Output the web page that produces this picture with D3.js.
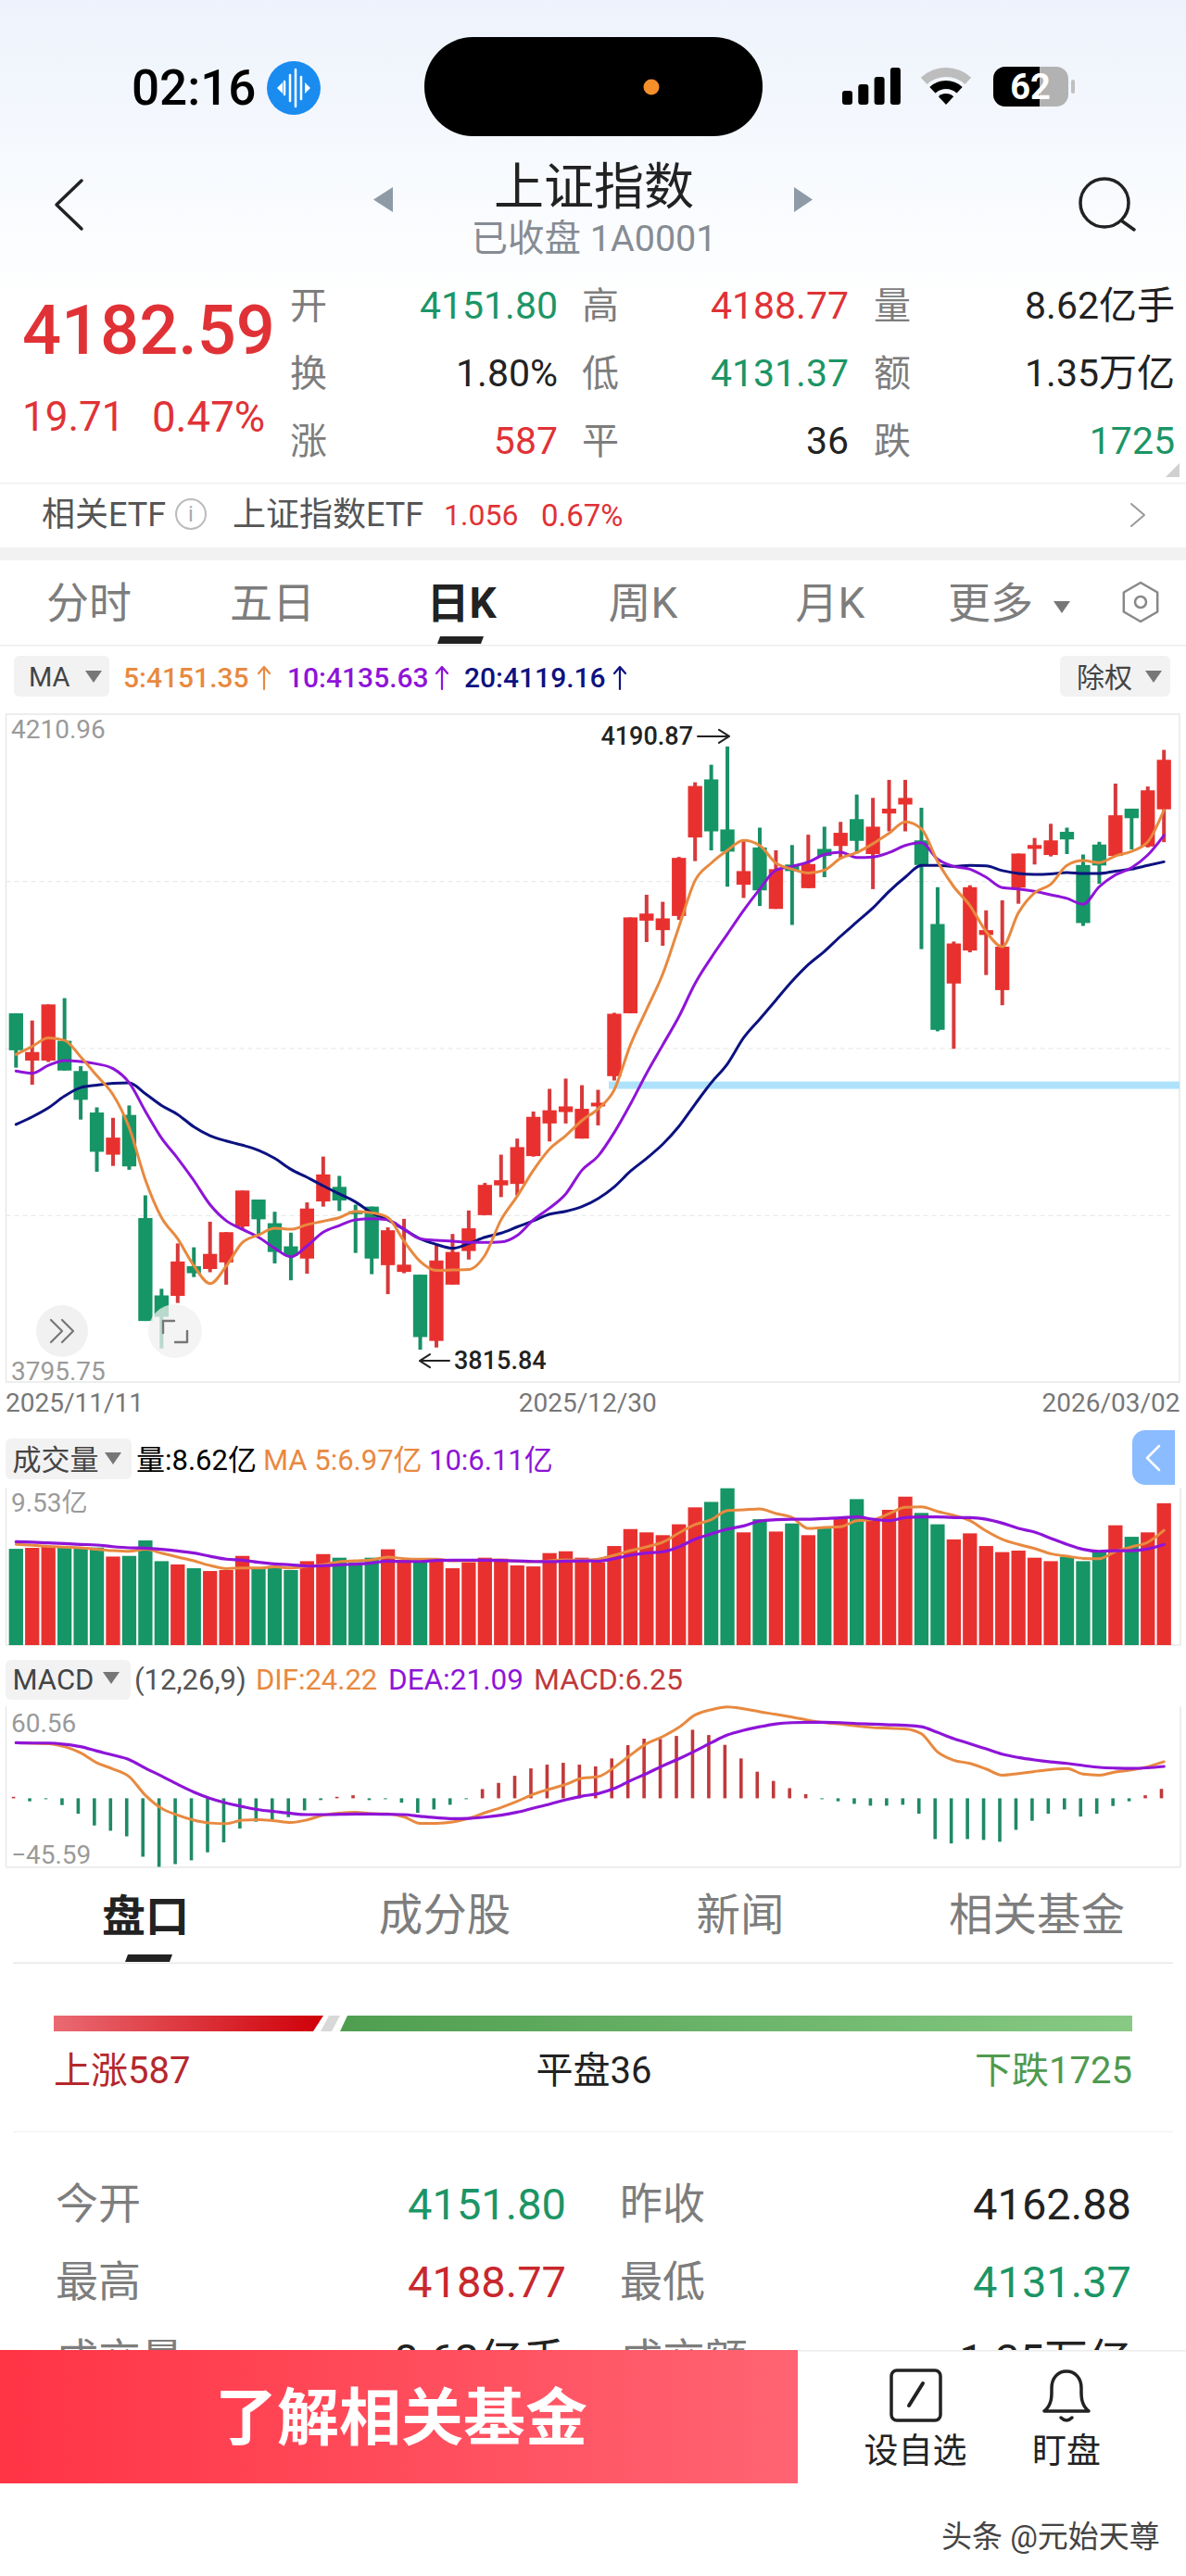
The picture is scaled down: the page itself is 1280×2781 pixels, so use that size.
<!DOCTYPE html>
<html>
<head>
<meta charset="utf-8">
<style>
  html, body { margin: 0; padding: 0; background: #fff; }
  svg { display: block; }
  text { font-family: Roboto, "Noto Sans CJK SC", sans-serif; }
</style>
<script src="https://cdnjs.cloudflare.com/ajax/libs/d3/7.8.5/d3.min.js"></script>
</head>
<body>
<div id="wrapper"></div>
<script>
const dateTicks = ["2025/11/11", "2025/12/30", "2026/03/02"];

const opens = [
  4025.0,3995.6,3995.6,4007.9,3989.1,3963.3,3937.1,3961.8,3897.7,3849.6,
  3849.3,3867.8,3866.0,3870.1,3892.5,3909.2,3894.5,3880.1,3872.5,3908.0,
  3917.1,3901.9,3904.8,3868.4,3864.2,3862.5,3821.3,3856.3,3877.2,3899.5,
  3918.0,3918.9,3936.2,3956.5,3963.6,3947.1,3967.1,3985.9,4025.0,4082.6,
  4076.7,4085.5,4134.3,4170.4,4139.3,4104.9,4128.1,4089.9,4117.5,4102.8,
  4127.2,4129.0,4145.7,4124.0,4149.2,4154.8,4132.5,4080.5,4043.5,4064.0,
  4073.7,4039.4,4103.1,4127.2,4123.4,4137.8,4117.2,4129.9,4122.8,4152.2,
  4128.7,4151.80];
const closes = [
  4002.0,4000.9,4030.5,3989.4,3971.2,3938.9,3947.7,3929.8,3833.7,3836.3,
  3870.7,3863.4,3875.4,3888.9,3914.8,3896.9,3876.6,3874.2,3903.6,3924.8,
  3908.6,3900.1,3872.5,3890.1,3868.7,3823.7,3871.3,3876.6,3891.3,3918.3,
  3921.2,3941.8,3960.6,3964.7,3967.1,3965.6,3969.4,4024.7,4084.6,4087.0,
  4084.0,4121.6,4166.3,4138.1,4125.5,4113.4,4101.4,4114.6,4113.4,4117.8,
  4122.8,4137.2,4132.2,4141.0,4152.2,4158.9,4117.2,4014.7,4068.4,4103.4,
  4076.7,4066.4,4124.3,4129.6,4132.5,4133.1,4081.1,4116.9,4148.1,4146.3,
  4163.6,4182.59];
const highs = [
  4025.0,4020.5,4030.5,4034.4,3992.1,3966.5,3960.0,3967.7,3911.8,3853.7,
  3881.9,3879.5,3895.4,3888.9,3914.8,3909.2,3901.6,3888.6,3907.4,3935.9,
  3923.9,3906.0,3904.8,3891.9,3897.2,3862.5,3881.3,3887.8,3902.4,3919.5,
  3937.1,3947.1,3963.9,3978.0,3984.4,3980.3,3977.4,4025.3,4084.6,4098.7,
  4094.3,4122.2,4168.6,4179.5,4190.87,4132.5,4140.4,4126.3,4129.6,4136.0,
  4141.0,4144.0,4161.0,4158.9,4170.1,4170.1,4152.8,4103.4,4069.6,4104.6,
  4089.0,4095.2,4124.3,4134.0,4142.8,4140.4,4123.7,4131.6,4167.8,4152.2,
  4166.0,4188.77];
const lows = [
  3991.2,3980.6,3994.7,3989.4,3958.9,3926.5,3930.1,3927.7,3833.7,3816.6,
  3844.9,3861.0,3864.0,3856.3,3890.1,3887.8,3869.5,3859.0,3863.1,3904.8,
  3902.1,3876.0,3862.8,3850.4,3863.4,3815.84,3817.2,3856.3,3871.9,3899.5,
  3910.7,3911.8,3935.9,3945.3,3956.5,3947.1,3955.3,3983.2,4025.0,4069.3,
  4067.0,4083.1,4119.6,4126.3,4103.7,4096.7,4091.7,4089.9,4079.9,4102.8,
  4109.6,4121.3,4124.3,4102.2,4138.1,4138.1,4064.9,4013.8,4002.9,4062.9,
  4048.8,4030.0,4093.1,4117.5,4122.5,4124.0,4079.3,4105.5,4122.8,4126.9,
  4128.1,4131.37];

const ma5 = [
  3999.4,4004.4,4009.7,4008.2,3997.9,3986.2,3974.4,3953.9,3921.5,3898.0,
  3884.8,3868.1,3856.9,3867.8,3882.5,3887.2,3891.3,3890.7,3893.6,3895.7,
  3898.0,3901.9,3901.0,3898.0,3883.3,3870.7,3865.1,3865.4,3865.7,3874.5,
  3896.6,3911.3,3927.4,3940.6,3948.9,3958.3,3965.6,3977.4,4005.3,4027.3,
  4049.4,4078.7,4107.5,4118.4,4126.3,4132.5,4129.3,4118.4,4114.6,4112.2,
  4114.0,4121.3,4124.9,4130.4,4136.9,4144.0,4139.6,4119.3,4103.7,4092.0,
  4075.8,4066.4,4087.5,4099.9,4105.2,4116.9,4119.9,4118.7,4122.8,4125.7,
  4131.6,4151.35];
const ma10 = [
  3989.1,3987.7,3992.6,3995.6,3995.0,3993.5,3990.6,3981.8,3964.1,3947.4,
  3934.8,3921.0,3906.0,3896.0,3890.7,3885.7,3878.9,3873.6,3880.4,3888.9,
  3893.0,3896.6,3897.2,3896.6,3890.7,3884.8,3883.9,3883.3,3882.5,3882.5,
  3882.8,3886.9,3896.6,3903.9,3912.7,3927.4,3936.2,3950.9,3968.5,3987.7,
  4005.3,4022.9,4043.5,4059.6,4074.3,4089.0,4102.2,4114.0,4116.3,4119.0,
  4123.7,4125.2,4121.9,4122.2,4124.9,4129.3,4131.0,4120.8,4116.3,4114.6,
  4109.6,4103.1,4102.2,4100.8,4098.7,4096.4,4092.8,4103.7,4111.0,4115.5,
  4123.4,4135.63];
const ma20 = [
  3955.9,3960.6,3966.2,3973.5,3978.8,3980.3,3981.5,3981.8,3975.0,3967.7,
  3962.1,3954.4,3948.9,3945.6,3943.0,3939.8,3934.8,3928.0,3923.0,3917.7,
  3912.7,3907.7,3901.0,3896.6,3890.7,3884.8,3881.3,3878.9,3881.9,3885.7,
  3888.3,3892.2,3896.0,3900.1,3901.9,3904.8,3909.8,3917.1,3926.8,3934.8,
  3943.6,3954.7,3968.5,3981.8,3993.5,4009.7,4021.4,4033.2,4044.9,4055.2,
  4063.5,4072.9,4081.7,4090.5,4100.8,4109.6,4116.9,4116.9,4116.3,4116.9,
  4116.6,4113.7,4111.9,4111.3,4111.6,4112.5,4111.9,4111.9,4113.4,4114.6,
  4116.9,4119.16];

// volume, in 亿
const volumes = [
  5.85,5.91,5.98,6.00,5.95,5.93,5.38,5.42,6.36,5.10,
  4.90,4.67,4.50,4.56,5.42,4.65,4.80,4.56,5.10,5.53,
  5.31,5.03,5.31,5.82,5.18,5.12,5.25,4.67,5.03,5.31,
  5.25,4.84,4.78,5.59,5.70,5.31,5.03,6.02,7.05,6.85,
  6.68,7.34,8.37,8.70,9.53,6.85,7.65,6.90,7.39,6.68,
  7.09,7.75,8.87,7.69,8.22,9.02,8.03,7.34,6.42,6.79,
  6.02,5.65,5.74,5.31,5.10,5.37,5.10,5.68,7.28,6.58,
  6.85,8.62];
const volMa5 = [
  6.12,6.06,6.00,5.95,5.91,5.82,5.74,5.70,5.82,5.59,
  5.35,5.12,4.84,4.65,4.69,4.69,4.75,4.69,4.78,4.88,
  5.07,5.12,5.18,5.35,5.25,5.22,5.22,5.12,5.12,5.16,
  5.16,5.10,5.07,5.12,5.18,5.16,5.22,5.46,5.74,5.97,
  6.25,6.81,7.32,7.62,8.18,8.22,8.27,7.99,7.75,7.09,
  7.15,7.19,7.56,7.62,7.99,8.37,8.40,8.12,7.88,7.56,
  6.94,6.43,6.12,5.87,5.55,5.40,5.27,5.25,5.68,5.97,
  6.25,6.97];
const volMa10 = [
  6.28,6.25,6.21,6.17,6.12,6.08,5.98,5.91,5.89,5.82,
  5.72,5.59,5.40,5.22,5.16,5.03,4.93,4.88,4.80,4.82,
  4.88,4.92,4.99,5.10,5.08,5.08,5.14,5.16,5.16,5.16,
  5.14,5.12,5.08,5.07,5.10,5.12,5.10,5.25,5.46,5.59,
  5.67,5.97,6.43,6.75,7.05,7.24,7.54,7.62,7.65,7.65,
  7.69,7.73,7.79,7.65,7.56,7.75,7.79,7.79,7.75,7.75,
  7.65,7.41,7.09,6.87,6.49,6.12,5.82,5.70,5.74,5.74,
  5.85,6.11];

const macdBars = [
  1,-2,-0.6,-4.5,-10.2,-18,-21.5,-25.2,-38.7,-45.4,
  -43.6,-41.1,-35.8,-29.2,-20,-15.5,-14.3,-12.5,-8,-1.2,
  1,2,-1.2,-0.6,-2.9,-9.6,-7.4,-4.3,-0.6,6.1,
  10.2,14.9,19.8,22.3,23.5,22.3,21.1,26.4,35.2,39.5,
  39.3,41.3,45.4,41.9,35.4,26.4,17.6,11.5,6.7,2.7,
  -0.5,-2,-3.7,-4.9,-4.9,-4.3,-10.2,-27,-29.9,-27,
  -27.6,-28.8,-20.9,-14.9,-10.2,-7.4,-12.1,-10.2,-5.1,-2,
  2,6.25];
const dif = [
  36.8,36.4,36.2,34.2,30.1,23.5,19.4,14.3,2.0,-6.7,
  -11.2,-14.5,-16.4,-16.8,-14.5,-14.1,-14.9,-16.0,-14.3,-11.2,
  -9.8,-9.2,-10.2,-10.4,-12.3,-16.6,-16.6,-15.7,-13.3,-9.6,
  -6.1,-2.0,2.7,6.1,9.2,13.3,14.3,20.5,28.6,36.2,
  40.9,47.0,55.2,58.7,60.56,59.3,57.3,55.6,53.8,51.7,
  50.1,49.1,47.9,46.8,46.4,46.0,42.7,30.7,25.2,23.1,
  19.4,15.3,16.4,17.8,19.0,19.8,16.0,15.3,17.4,18.8,
  20.9,24.22];
const dea = [
  36.8,36.6,36.6,35.8,34.2,31.3,28.6,25.6,20.0,14.7,
  9.2,4.1,0,-3.1,-5.5,-7.6,-8.8,-10.0,-10.8,-10.8,
  -10.6,-10.4,-10.4,-10.6,-10.8,-11.9,-12.9,-13.5,-13.3,-12.5,
  -11.2,-9.2,-6.5,-3.9,-1.0,1.4,3.1,6.5,11.7,16.4,
  21.5,26.2,31.3,36.8,41.9,45.0,47.4,49.3,50.1,50.3,
  50.3,50.1,49.5,49.1,48.7,48.3,47.4,43.6,39.5,36.2,
  32.7,29.2,27.0,25.4,24.1,23.1,21.7,20.5,20.0,19.8,
  20.2,21.09];

const priceTicks = [4210.96, 3795.75];
const priceGrid = [4107.16, 4003.36, 3899.55];
const priceMaxMarker = 4190.87;
const priceMinMarker = 3815.84;
const levelLine = 3980.3;
const volumeTicks = [9.53];
const macdTicks = [60.56, -45.59];

const colors = {
  red: "#e8312f",
  green: "#169566",
  textRed: "#e03236",
  textGreen: "#1c9566",
  macdRed: "#c0393b",
  macdGreen: "#1f8a65",
  orange: "#e8893f",
  purple: "#8e14d8",
  navy: "#0c1280",
  grid: "#e4e4e4",
  frame: "#e8e8e8",
  gray: "#7d7d7d",
  axisGray: "#9a9a9a",
  chip: "#f2f2f2",
  dark: "#222",
};

const indices = d3.range(closes.length);
const candles = indices.map(i => ({ i, open: opens[i], close: closes[i], high: highs[i], low: lows[i] }));
const isUp = i => closes[i] >= opens[i];

const svg = d3.select("#wrapper").append("svg").attr("width", 1280).attr("height", 2781);
const defs = svg.append("defs");

function gradient(id, stops, vertical) {
  const g = defs.append("linearGradient").attr("id", id)
    .attr("x1", 0).attr("y1", 0)
    .attr("x2", vertical ? 0 : 1).attr("y2", vertical ? 1 : 0);
  stops.forEach((c, k) => g.append("stop").attr("offset", k / (stops.length - 1)).attr("stop-color", c));
}
gradient("headerBg", ["#edf3fc", "#ffffff"], true);
gradient("barRed", ["#ea6a72", "#cf0008"]);
gradient("barGreen", ["#4f9e4f", "#88ca84"]);
gradient("btnRed", ["#ff3445", "#ff6472"]);

function text(x, y, str, size, fill, opts = {}) {
  return svg.append("text")
    .attr("x", x).attr("y", y)
    .attr("dominant-baseline", "central")
    .attr("text-anchor", opts.anchor || "start")
    .attr("font-size", size)
    .attr("font-weight", opts.weight || 400)
    .attr("fill", fill)
    .text(str);
}

function rect(x, y, w, h, fill, rx) {
  return svg.append("rect").attr("x", x).attr("y", y).attr("width", w).attr("height", h)
    .attr("fill", fill).attr("rx", rx || 0);
}

function stroke(d, color, width) {
  return svg.append("path").attr("d", d).attr("fill", "none")
    .attr("stroke", color).attr("stroke-width", width)
    .attr("stroke-linecap", "round").attr("stroke-linejoin", "round");
}

function fillPath(d, color) {
  return svg.append("path").attr("d", d).attr("fill", color);
}

function caret(cx, cy, color) {
  fillPath(`M${cx - 9},${cy - 6}L${cx + 9},${cy - 6}L${cx},${cy + 7}Z`, color || "#777");
}

function drawHeader() {
  rect(0, 0, 1280, 330, "url(#headerBg)");

  text(142, 95, "02:16", 53, "#000", { weight: 500 });
  svg.append("circle").attr("cx", 317).attr("cy", 95).attr("r", 29).attr("fill", "#1a8cf0");
  [[307, 7], [313, 14], [319, 20], [325, 12]].forEach(([x, h]) => stroke(`M${x},${95 - h}V${95 + h}`, "#fff", 2.5));
  fillPath("M299,95l6,-6v12Z", "#fff");
  fillPath("M335,95l-6,-6v12Z", "#fff");

  rect(458, 40, 365, 107, "#000", 53);
  svg.append("circle").attr("cx", 703).attr("cy", 94).attr("r", 8.5).attr("fill", "#f58f2a");

  [15, 22, 30, 40].forEach((h, k) => rect(909 + k * 17.3, 113 - h, 11, h, "#000", 3));
  const arc = d3.arc().startAngle(-Math.PI / 4.2).endAngle(Math.PI / 4.2);
  [[0, 12, "#000"], [17, 26, "#000"], [30, 40, "#bdbdbd"]].forEach(([r0, r1, c]) => {
    svg.append("path").attr("transform", "translate(1021,113)")
      .attr("d", arc({ innerRadius: r0, outerRadius: r1 })).attr("fill", c);
  });
  rect(1072, 72, 81, 43, "#b2b2b2", 13);
  fillPath("M1085,72H1122V115H1085A13,13 0 0 1 1072,102V85A13,13 0 0 1 1085,72Z", "#000");
  rect(1156, 86, 4, 15, "#c0c0c0", 2);
  text(1112, 94, "62", 38, "#fff", { anchor: "middle", weight: 700 });

  stroke("M88,195L61,221L88,247", "#222", 3.5);
  text(641, 202, "上证指数", 54, "#222", { anchor: "middle" });
  fillPath("M424,202V229L403,215.5Z", "#8e9aa6");
  fillPath("M857,202V229L877,215.5Z", "#8e9aa6");
  text(641, 257, "已收盘 1A0001", 39.5, "#868c94", { anchor: "middle" });
  svg.append("circle").attr("cx", 1192).attr("cy", 219).attr("r", 26).attr("fill", "none")
    .attr("stroke", "#222").attr("stroke-width", 3.5);
  stroke("M1210,238L1224,248", "#222", 3.5);
}

function drawQuote() {
  text(24, 356, "4182.59", 74, colors.textRed, { weight: 500 });
  text(24, 450, "19.71", 44, colors.textRed);
  text(164, 450, "0.47%", 45.5, colors.textRed);

  const labelCols = [313, 628, 943];
  const valueCols = [602, 916, 1268];
  const rowYs = [330, 403, 476];
  const cells = [
    [["开", "4151.80", colors.textGreen], ["高", "4188.77", colors.textRed], ["量", "8.62亿手", colors.dark]],
    [["换", "1.80%", colors.dark], ["低", "4131.37", colors.textGreen], ["额", "1.35万亿", colors.dark]],
    [["涨", "587", colors.textRed], ["平", "36", colors.dark], ["跌", "1725", colors.textGreen]],
  ];
  cells.forEach((row, r) => row.forEach(([lab, val, col], c) => {
    text(labelCols[c], rowYs[r], lab, 40, colors.gray);
    text(valueCols[c], rowYs[r], val, 41, col, { anchor: "end" });
  }));
  fillPath("M1273,500V515H1258Z", "#d0d0d0");

  rect(0, 521, 1280, 1.5, "#f0f0f0");
  text(45, 556, "相关ETF", 36, "#555");
  svg.append("circle").attr("cx", 206).attr("cy", 555).attr("r", 16).attr("fill", "none")
    .attr("stroke", "#bbb").attr("stroke-width", 2);
  text(206, 555, "i", 24, "#aaa", { anchor: "middle" });
  text(251, 556, "上证指数ETF", 36, "#555");
  text(479, 556, "1.056", 32, colors.textRed);
  text(584, 556, "0.67%", 33, colors.textRed);
  stroke("M1221,544L1235,556L1221,568", "#999", 2);
  rect(0, 591, 1280, 14, "#f2f2f2");
}

function drawTabs() {
  const tabs = [["分时", 96], ["五日", 294], ["周K", 694], ["月K", 896], ["更多", 1069]];
  tabs.forEach(([t, x]) => text(x, 651, t, 46, colors.gray, { anchor: "middle" }));
  text(498, 651, "日K", 46, colors.dark, { anchor: "middle", weight: 700 });
  caret(1146, 655, "#777");
  const hex = d3.line()(d3.range(6).map(k => {
    const a = Math.PI / 3 * k - Math.PI / 2;
    return [1231 + 21 * Math.cos(a), 650 + 21 * Math.sin(a)];
  })) + "Z";
  stroke(hex, "#888", 2.5);
  svg.append("circle").attr("cx", 1231).attr("cy", 650).attr("r", 6).attr("fill", "none")
    .attr("stroke", "#888").attr("stroke-width", 2.5);
  fillPath("M475,687H522L519,695H472Z", colors.dark);
  rect(0, 696, 1280, 1.5, "#eeeeee");

  rect(15, 708, 103, 44, colors.chip, 6);
  text(31, 731, "MA", 29, "#444");
  caret(101, 730, "#777");
  const mas = [["5:4151.35", 133, 285, colors.orange], ["10:4135.63", 310, 477, colors.purple], ["20:4119.16", 501, 669, colors.navy]];
  mas.forEach(([t, x, ax, c]) => {
    text(x, 731, t, 30, c, { weight: 500 });
    stroke(`M${ax},744V720M${ax - 6},727L${ax},720L${ax + 6},727`, c, 2.2);
  });
  rect(1144, 708, 119, 44, colors.chip, 6);
  text(1192, 731, "除权", 30, "#444", { anchor: "middle" });
  caret(1245, 730, "#777");
}

// shared x scale, one band per trading day
const xScale = d3.scaleBand().domain(indices).range([7.5, 1266]).padding(0.123);
const barW = xScale.bandwidth();
const cx = i => xScale(i) + barW / 2;

const frameX0 = 6.5;
const frameX1 = 1273;

function maLine(values, yScale, color, width) {
  const line = d3.line().x((d, i) => cx(i)).y(d => yScale(d)).curve(d3.curveMonotoneX);
  svg.append("path").attr("d", line(values)).attr("fill", "none")
    .attr("stroke", color).attr("stroke-width", width)
    .attr("stroke-linejoin", "round").attr("stroke-linecap", "round");
}

function sideLabels(scale, ticks, format, dys) {
  const axis = d3.axisRight(scale).tickValues(ticks).tickSize(0).tickPadding(0).tickFormat(format);
  const g = svg.append("g").attr("transform", `translate(12,0)`).call(axis);
  g.select(".domain").remove();
  g.selectAll("text")
    .attr("font-family", 'Roboto, "Noto Sans CJK SC", sans-serif')
    .attr("font-size", 28)
    .attr("fill", colors.axisGray)
    .attr("dy", (d, k) => dys[k]);
}

function drawPricePanel() {
  const top = 771, bottom = 1492;
  const yScale = d3.scaleLinear().domain([3795.75, 4210.96]).range([bottom, top]);

  const grid = d3.axisLeft(yScale).tickValues(priceGrid).tickSize(-(frameX1 - frameX0 - 8)).tickFormat("");
  const gridG = svg.append("g").attr("transform", `translate(${frameX0},0)`).call(grid);
  gridG.select(".domain").remove();
  gridG.selectAll("line").attr("stroke", colors.grid).attr("stroke-dasharray", "5 4");

  svg.append("rect").attr("x", frameX0).attr("y", top).attr("width", frameX1 - frameX0).attr("height", bottom - top)
    .attr("fill", "none").attr("stroke", colors.frame).attr("stroke-width", 1.5);

  rect(657, yScale(levelLine) - 4, frameX1 - 657, 8, "#aee2fb");

  const wicks = svg.append("g");
  wicks.selectAll("rect").data(candles).join("rect")
    .attr("x", d => cx(d.i) - 2)
    .attr("width", 4)
    .attr("y", d => yScale(d.high))
    .attr("height", d => yScale(d.low) - yScale(d.high))
    .attr("fill", d => isUp(d.i) ? "#d63a3c" : "#1a8f66");
  const bodies = svg.append("g");
  bodies.selectAll("rect").data(candles).join("rect")
    .attr("x", d => xScale(d.i))
    .attr("width", barW)
    .attr("y", d => yScale(Math.max(d.open, d.close)))
    .attr("height", d => Math.max(3, Math.abs(yScale(d.open) - yScale(d.close))))
    .attr("fill", d => isUp(d.i) ? colors.red : colors.green);

  maLine(ma20, yScale, colors.navy, 3);
  maLine(ma10, yScale, colors.purple, 3);
  maLine(ma5, yScale, colors.orange, 3);

  sideLabels(yScale, priceTicks, d3.format(".2f"), [25, -3]);

  const maxY = yScale(priceMaxMarker) - 11;
  text(748, maxY, d3.format(".2f")(priceMaxMarker), 27, colors.dark, { anchor: "end", weight: 500 });
  stroke(`M753,${maxY}H787M776,${maxY - 7}L787,${maxY}L776,${maxY + 7}`, colors.dark, 2);
  const minY = yScale(priceMinMarker) + 12;
  text(490, minY, d3.format(".2f")(priceMinMarker), 27, colors.dark, { weight: 500 });
  stroke(`M485,${minY}H453M464,${minY - 7}L453,${minY}L464,${minY + 7}`, colors.dark, 2);

  const dates = d3.scalePoint().domain(dateTicks).range([frameX0, frameX1]);
  const dateAxis = svg.append("g").attr("transform", `translate(0,${bottom})`)
    .call(d3.axisBottom(dates).tickSize(0).tickPadding(12));
  dateAxis.select(".domain").remove();
  dateAxis.selectAll("text")
    .attr("font-family", 'Roboto, "Noto Sans CJK SC", sans-serif')
    .attr("font-size", 28)
    .attr("fill", "#777")
    .attr("text-anchor", (d, k) => ["start", "middle", "end"][k])
    .attr("dx", (d, k) => [-1, -6, 0][k]);

  // overlay buttons
  svg.append("circle").attr("cx", 67).attr("cy", 1437).attr("r", 28).attr("fill", "#f0f0f0").attr("fill-opacity", 0.92);
  stroke("M55,1425L67,1437L55,1449M67,1425L79,1437L67,1449", "#777", 2.2);
  svg.append("circle").attr("cx", 189).attr("cy", 1437).attr("r", 29).attr("fill", "#f0f0f0").attr("fill-opacity", 0.75);
  stroke("M176,1439V1426H188", "#777", 2.4);
  stroke("M202,1437V1449H189", "#777", 2.4);
}

function drawVolumePanel() {
  const top = 1606.7, bottom = 1776;
  const yScale = d3.scaleLinear().domain([0, 9.53]).range([bottom, top]);

  rect(6, 1553, 136, 44, colors.chip, 6);
  text(13.5, 1576, "成交量", 31, "#444");
  caret(122, 1574, "#777");
  text(147, 1576, "量:8.62亿", 31, "#000");
  text(284, 1576, "MA 5:6.97亿", 31, colors.orange);
  text(463, 1576, "10:6.11亿", 31, colors.purple);

  stroke(`M${frameX0},${top}V${bottom}H1274V${top}`, colors.frame, 1.5);

  svg.append("g").selectAll("rect").data(volumes).join("rect")
    .attr("x", (d, i) => xScale(i))
    .attr("width", barW)
    .attr("y", d => yScale(d))
    .attr("height", d => yScale(0) - yScale(d))
    .attr("fill", (d, i) => isUp(i) ? colors.red : colors.green);

  maLine(volMa5, yScale, colors.orange, 3);
  maLine(volMa10, yScale, colors.purple, 3.2);

  sideLabels(yScale, volumeTicks, d => d3.format(".2f")(d) + "亿", [25]);

  fillPath("M1268,1544V1603H1236A14,14 0 0 1 1222,1589V1558A14,14 0 0 1 1236,1544Z", "#8abcff");
  stroke("M1251,1561L1238,1574L1251,1587", "#fff", 2.5);
}

function drawMacdPanel() {
  const top = 1842.7, bottom = 2015.7;
  const yScale = d3.scaleLinear().domain([-45.59, 60.56]).range([bottom, top]);

  rect(6, 1792, 135, 43, colors.chip, 6);
  text(13.5, 1813, "MACD", 31, "#444");
  caret(120, 1811, "#777");
  text(145, 1813, "(12,26,9)", 31, "#555");
  text(276, 1813, "DIF:24.22", 31, colors.orange);
  text(419, 1813, "DEA:21.09", 31.5, colors.purple);
  text(576, 1813, "MACD:6.25", 32, colors.macdRed);

  stroke(`M${frameX0},${top}V${bottom}H1274V${top}`, colors.frame, 1.5);

  svg.append("g").selectAll("rect").data(macdBars).join("rect")
    .attr("x", (d, i) => cx(i) - 4.5)
    .attr("width", 3.6)
    .attr("y", d => yScale(Math.max(d, 0)))
    .attr("height", d => Math.max(1, Math.abs(yScale(d) - yScale(0))))
    .attr("fill", d => d >= 0 ? colors.macdRed : colors.macdGreen);

  maLine(dif, yScale, colors.orange, 3);
  maLine(dea, yScale, colors.purple, 3.2);

  sideLabels(yScale, macdTicks, d3.format(".2f"), [27, -4]);
}

function drawDetails() {
  const tabs = [["成分股", 480], ["新闻", 799], ["相关基金", 1119]];
  text(157, 2068, "盘口", 47, colors.dark, { anchor: "middle", weight: 700 });
  tabs.forEach(([t, x]) => text(x, 2068, t, 47.5, colors.gray, { anchor: "middle" }));
  fillPath("M138,2110H186L183,2118H135Z", colors.dark);
  rect(14, 2118.5, 1252, 1.5, "#e8e8e8");

  fillPath("M58,2176H349L338,2193H58Z", "url(#barRed)");
  fillPath("M355,2176H367L358,2193H346Z", "#d8d8d8");
  fillPath("M375,2176H1222V2193H367Z", "url(#barGreen)");
  text(58, 2235, "上涨587", 40, "#b5282d");
  text(641, 2235, "平盘36", 40, colors.dark, { anchor: "middle" });
  text(1222, 2235, "下跌1725", 40, "#4f9a4f", { anchor: "end" });
  rect(14, 2301, 1252, 1, "#f0f0f0");

  const rows = [
    [2379, "今开", "4151.80", colors.textGreen, "昨收", "4162.88", colors.dark],
    [2463, "最高", "4188.77", "#c8282d", "最低", "4131.37", colors.textGreen],
    [2547, "成交量", "8.62亿手", colors.dark, "成交额", "1.35万亿", colors.dark],
  ];
  rows.forEach(([y, a, av, ac, b, bv, bc]) => {
    text(60, y, a, 46, colors.gray);
    text(611, y, av, 47, ac, { anchor: "end" });
    text(669, y, b, 46, colors.gray);
    text(1221, y, bv, 47, bc, { anchor: "end" });
  });

  rect(0, 2537, 1280, 244, "#fff");
  rect(0, 2537, 1280, 1.5, "#ececec");
  rect(0, 2537, 861, 144, "url(#btnRed)");
  text(433, 2611, "了解相关基金", 67, "#fff", { anchor: "middle", weight: 700 });

  svg.append("rect").attr("x", 962).attr("y", 2559).attr("width", 53).attr("height", 54).attr("rx", 6)
    .attr("fill", "none").attr("stroke", "#222").attr("stroke-width", 3.5);
  stroke("M981,2597L996,2573", "#222", 4);
  text(988, 2646, "设自选", 37, colors.dark, { anchor: "middle" });
  stroke("M1127,2603C1136,2596 1135,2585 1135,2578C1135,2567 1142,2560 1151,2560C1160,2560 1167,2567 1167,2578C1167,2585 1166,2596 1175,2603Z", "#222", 3.5);
  stroke("M1145,2610Q1151,2616 1157,2610", "#222", 3.5);
  text(1151, 2646, "盯盘", 37, colors.dark, { anchor: "middle" });

  text(1016, 2738, "头条 @元始天尊", 33, "#444");
}

drawHeader();
drawQuote();
drawTabs();
drawPricePanel();
drawVolumePanel();
drawMacdPanel();
drawDetails();
</script>
</body>
</html>
